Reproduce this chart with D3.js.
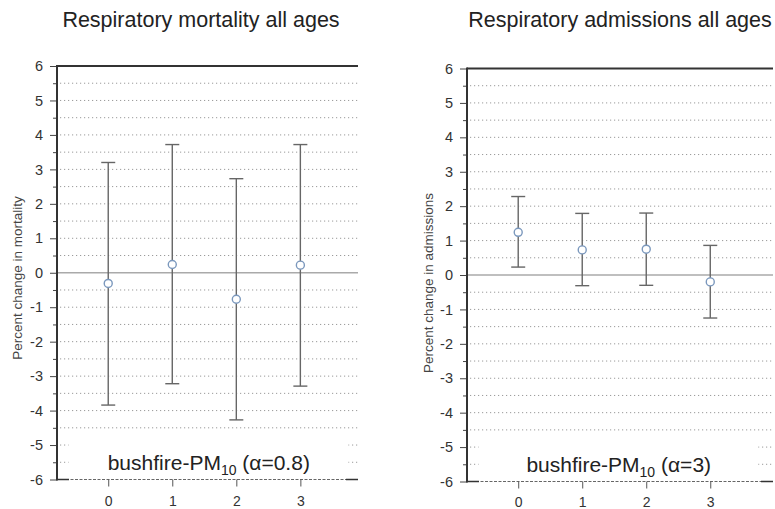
<!DOCTYPE html>
<html>
<head>
<meta charset="utf-8">
<script src="https://cdn.jsdelivr.net/npm/d3@7"></script>
<style>
  html, body { margin: 0; padding: 0; background: #fff; }
  svg { display: block; font-family: "Liberation Sans", Arial, sans-serif; }
</style>
</head>
<body>
<svg id="chart" width="775" height="509"></svg>
<script>
// Lags (days) on the x axis
const lags = [0, 1, 2, 3];

// Respiratory mortality, all ages: percent change with 95% CI
const mortEst  = [-0.31, 0.24, -0.77, 0.22];
const mortLow  = [-3.84, -3.22, -4.27, -3.29];
const mortHigh = [3.20, 3.72, 2.73, 3.72];

// Respiratory admissions, all ages: percent change with 95% CI
const admEst  = [1.24, 0.73, 0.75, -0.20];
const admLow  = [0.23, -0.31, -0.30, -1.25];
const admHigh = [2.28, 1.79, 1.80, 0.86];

// Y axis ticks (major every 1, minor every 0.5)
const yMajor = [-6, -5, -4, -3, -2, -1, 0, 1, 2, 3, 4, 5, 6];
const yMinor = [-5.5, -4.5, -3.5, -2.5, -1.5, -0.5, 0.5, 1.5, 2.5, 3.5, 4.5, 5.5];
const yDomain = [-6, 6];

const panels = [
  {
    title: "Respiratory mortality all ages", titleX: 201,
    yLabel: "Percent change in mortality", yLabelX: 17, yLabelY: 278,
    est: mortEst, low: mortLow, high: mortHigh, alpha: "0.8",
    xDomain: [-0.8, 3.9], xRange: [57, 358], yRange: [479.5, 66], xPad: 10
  },
  {
    title: "Respiratory admissions all ages", titleX: 620,
    yLabel: "Percent change in admissions", yLabelX: 428, yLabelY: 283,
    est: admEst, low: admLow, high: admHigh, alpha: "3",
    xDomain: [-0.8, 3.98], xRange: [467, 773], yRange: [481.5, 68.5], xPad: 9
  }
];

// plain hyphen for negatives
const intFmt = d => String(d);

const svg = d3.select("#chart");

panels.forEach(p => {
  const x = d3.scaleLinear().domain(p.xDomain).range(p.xRange);
  const y = d3.scaleLinear().domain(yDomain).range(p.yRange);
  const [x0, x1] = p.xRange;
  const g = svg.append("g");

  // title
  svg.append("text")
    .attr("x", p.titleX).attr("y", 27)
    .attr("text-anchor", "middle")
    .style("font-size", "21.5px").attr("fill", "#222")
    .text(p.title);

  // y axis title
  svg.append("text")
    .attr("transform", `translate(${p.yLabelX},${p.yLabelY}) rotate(-90)`)
    .attr("text-anchor", "middle").attr("dy", "0.35em")
    .style("font-size", "13.5px").attr("fill", "#444")
    .text(p.yLabel);

  // dotted grid lines at every half unit except 0 and the borders
  const gridVals = yMajor.concat(yMinor).filter(v => v !== 0 && Math.abs(v) !== 6);
  g.append("g").selectAll("line").data(gridVals).join("line")
    .attr("x1", x0 + 3).attr("x2", x1)
    .attr("y1", d => y(d)).attr("y2", d => y(d))
    .attr("stroke", "#9a9a9a").attr("stroke-width", 1)
    .attr("stroke-dasharray", "1.2,2.8");

  // white panel behind the exposure label
  g.append("rect")
    .attr("x", x(-0.62)).attr("width", x(3.75) - x(-0.62))
    .attr("y", y(-4.75)).attr("height", y(-6) - y(-4.75) - 1)
    .attr("fill", "#fff");

  // reference line at zero
  g.append("line")
    .attr("x1", x0).attr("x2", x1)
    .attr("y1", y(0)).attr("y2", y(0))
    .attr("stroke", "#aaaaaa").attr("stroke-width", 1.5);

  // top border
  g.append("line")
    .attr("x1", x0).attr("x2", x1)
    .attr("y1", y(6)).attr("y2", y(6))
    .attr("stroke", "#333").attr("stroke-width", 2);

  // bottom border: dashed with short solid ends
  g.append("line")
    .attr("x1", x0).attr("x2", x1)
    .attr("y1", y(-6)).attr("y2", y(-6))
    .attr("stroke", "#666").attr("stroke-width", 1)
    .attr("stroke-dasharray", "3,1.5");
  [[x0, x0 + 12], [x1 - 12, x1]].forEach(([a, b]) => {
    g.append("line")
      .attr("x1", a).attr("x2", b)
      .attr("y1", y(-6)).attr("y2", y(-6))
      .attr("stroke", "#333").attr("stroke-width", 1.5);
  });

  // x axis ticks and labels
  const xAxis = g.append("g")
    .attr("transform", `translate(0,${y(-6)})`)
    .call(d3.axisBottom(x).tickValues(lags).tickFormat(intFmt)
      .tickSize(7).tickPadding(p.xPad));
  xAxis.select(".domain").remove();
  xAxis.selectAll(".tick line").attr("stroke", "#555");
  xAxis.selectAll(".tick text").attr("fill", "#333")
    .style("font-size", "14px").style("font-family", "'Liberation Sans', Arial, sans-serif");

  // minor y ticks
  const yMinorAxis = g.append("g")
    .attr("transform", `translate(${x0},0)`)
    .call(d3.axisLeft(y).tickValues(yMinor).tickSize(4).tickFormat(""));
  yMinorAxis.select(".domain").remove();
  yMinorAxis.selectAll(".tick line").attr("stroke", "#444");

  // major y ticks with labels
  const yAxis = g.append("g")
    .attr("transform", `translate(${x0},0)`)
    .call(d3.axisLeft(y).tickValues(yMajor).tickSize(7).tickPadding(7)
      .tickFormat(intFmt));
  yAxis.select(".domain").remove();
  yAxis.selectAll(".tick line").attr("stroke", "#444");
  yAxis.selectAll(".tick text").attr("fill", "#333")
    .style("font-size", "14.5px").style("font-family", "'Liberation Sans', Arial, sans-serif");

  // y axis line
  g.append("line")
    .attr("x1", x0).attr("x2", x0)
    .attr("y1", y(6) - 1).attr("y2", y(-6) + 1)
    .attr("stroke", "#333").attr("stroke-width", 2);

  // exposure label
  const lbl = g.append("text")
    .attr("x", x(1.57)).attr("y", y(-6) - 10)
    .attr("text-anchor", "middle")
    .style("font-size", "21px").attr("fill", "#222");
  lbl.append("tspan").text("bushfire-PM");
  lbl.append("tspan").style("font-size", "14px").attr("dy", 5).text("10");
  lbl.append("tspan").attr("dy", -5).text(` (α=${p.alpha})`);

  // error bars
  const rows = lags.map((l, i) => ({ lag: l, est: p.est[i], low: p.low[i], high: p.high[i] }));
  const eb = g.append("g").selectAll("g").data(rows).join("g")
    .attr("stroke", "#666").attr("stroke-width", 1.4);
  eb.append("line")
    .attr("x1", d => x(d.lag)).attr("x2", d => x(d.lag))
    .attr("y1", d => y(d.low)).attr("y2", d => y(d.high));
  eb.append("line")
    .attr("x1", d => x(d.lag) - 7).attr("x2", d => x(d.lag) + 7)
    .attr("y1", d => y(d.high)).attr("y2", d => y(d.high));
  eb.append("line")
    .attr("x1", d => x(d.lag) - 7).attr("x2", d => x(d.lag) + 7)
    .attr("y1", d => y(d.low)).attr("y2", d => y(d.low));

  // point estimates
  g.append("g").selectAll("circle").data(rows).join("circle")
    .attr("cx", d => x(d.lag)).attr("cy", d => y(d.est))
    .attr("r", 4)
    .attr("fill", "#fff").attr("stroke", "#7b98bd").attr("stroke-width", 1.4);
});
</script>
</body>
</html>
